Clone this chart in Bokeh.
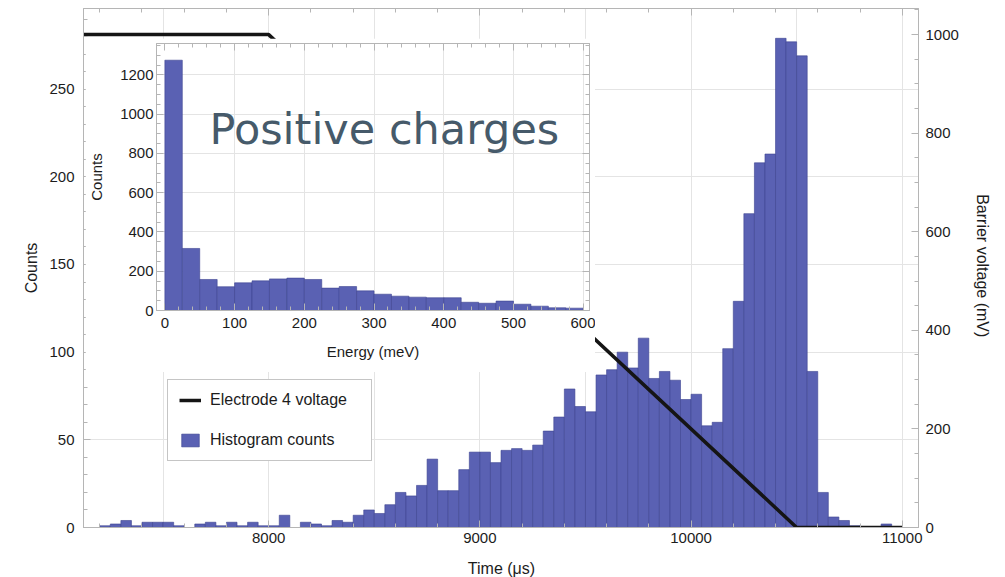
from bokeh.plotting import figure
from bokeh.layouts import column, row
from bokeh.models import (Range1d, LinearAxis, FixedTicker, Legend, LegendItem,
                          GridBox, Label, Spacer)
from bokeh.embed import file_html
from bokeh.resources import INLINE

# ---- time histogram (50 us bins, left edges) ----
TIME_BIN = 50
time_left = list(range(7200, 10950, TIME_BIN))
time_counts = [
    1, 2, 4, 1, 3, 3, 3, 1, 0, 2,          # 7200 - 7650
    3, 1, 3, 1, 3, 1, 1, 7, 0, 3,          # 7700 - 8150
    2, 1, 4, 3, 7, 10, 8, 13, 20, 18,      # 8200 - 8650
    24, 39, 21, 21, 33, 43, 43, 37, 44, 45,  # 8700 - 9150
    44, 47, 55, 63, 79, 69, 66, 87, 90, 100,  # 9200 - 9650
    91, 108, 85, 89, 84, 73, 76, 58, 60, 102,  # 9700 - 10150
    129, 179, 208, 213, 279, 277, 269, 89, 20, 6,  # 10200 - 10650
    4, 1, 0, 0, 2,                          # 10700 - 10900
]

# ---- electrode 4 barrier voltage ramp ----
volt_time = [7080, 8000, 10500, 11000]
volt_mv = [1000, 1000, 0, 0]

# ---- energy histogram (25 meV bins, left edges) ----
ENERGY_BIN = 25
energy_left = list(range(0, 600, ENERGY_BIN))
energy_counts = [1275, 316, 158, 121, 141, 151, 161, 165, 158, 114, 122, 100,
                 83, 73, 68, 65, 65, 42, 37, 48, 32, 22, 14, 12]

# ---- tick positions ----
count_ticks = [0, 50, 100, 150, 200, 250]
volt_ticks = [0, 200, 400, 600, 800, 1000]
time_ticks = [8000, 9000, 10000, 11000]
energy_ticks = [0, 100, 200, 300, 400, 500, 600]
inset_count_ticks = [0, 200, 400, 600, 800, 1000, 1200]

BAR_FILL = "#5a61b3"
BAR_LINE = "#3d4391"
FRAME = "#b5b5b5"
GRID = "#e4e4e4"
FONT = "Liberation Sans"
TXT = "#1c1c1c"


def style_axis(ax, size="15px", label_size="16px"):
    ax.axis_line_color = FRAME
    ax.major_tick_line_color = FRAME
    ax.minor_tick_line_color = FRAME
    ax.major_tick_in = 7
    ax.major_tick_out = 0
    ax.minor_tick_in = 4
    ax.minor_tick_out = 0
    ax.major_label_text_font = FONT
    ax.major_label_text_font_size = size
    ax.major_label_text_color = TXT
    ax.axis_label_text_font = FONT
    ax.axis_label_text_font_size = label_size
    ax.axis_label_text_font_style = "normal"
    ax.axis_label_text_color = TXT


def blank_axis(ticker):
    ax = LinearAxis(ticker=ticker)
    style_axis(ax)
    ax.major_label_overrides = {t: "" for t in ticker.ticks}
    ax.major_label_text_font_size = "1px"
    ax.major_label_standoff = 0
    return ax


# ================= main plot =================
p = figure(width=1005, height=577, x_range=Range1d(7123, 11077), y_range=Range1d(0, 296),
           output_backend="svg", toolbar_location=None,
           min_border_left=83, min_border_right=87, min_border_top=8, min_border_bottom=50,
           y_axis_label="Counts")
p.extra_y_ranges = {"volt": Range1d(0, 1053)}
p.outline_line_color = FRAME
p.background_fill_color = "white"
p.border_fill_color = "white"

p.xaxis.ticker = FixedTicker(ticks=time_ticks, minor_ticks=list(range(7200, 11001, 200)))
p.yaxis.ticker = FixedTicker(ticks=count_ticks, minor_ticks=list(range(0, 296, 10)))
style_axis(p.xaxis[0])
style_axis(p.yaxis[0])
p.xaxis.major_label_standoff = 5
p.yaxis.major_label_standoff = 9
p.yaxis.axis_label_standoff = 6

p.xgrid.ticker = FixedTicker(ticks=list(range(7500, 11001, 500)))
p.ygrid.ticker = FixedTicker(ticks=count_ticks[1:])
p.xgrid.grid_line_color = GRID
p.ygrid.grid_line_color = GRID

vax = LinearAxis(y_range_name="volt", axis_label="Barrier voltage  (mV)",
                 ticker=FixedTicker(ticks=volt_ticks, minor_ticks=list(range(0, 1051, 50))))
style_axis(vax)
vax.major_label_standoff = 7
vax.axis_label_standoff = 12
p.add_layout(vax, "right")

p.add_layout(blank_axis(FixedTicker(ticks=time_ticks,
                                    minor_ticks=list(range(7200, 11001, 200)))), "above")

bars = p.quad(left=time_left, right=[t + TIME_BIN for t in time_left],
              bottom=0, top=time_counts,
              fill_color=BAR_FILL, line_color=BAR_LINE, line_width=0.6)
volt = p.line(volt_time, volt_mv, y_range_name="volt", line_color="#151515", line_width=3.5)

legend = Legend(items=[LegendItem(label="Electrode 4 voltage", renderers=[volt]),
                       LegendItem(label="Histogram counts", renderers=[bars])],
                location=(84, 66), orientation="vertical")
legend.label_text_font = FONT
legend.label_text_font_size = "16px"
legend.label_text_color = TXT
legend.border_line_color = "#8c8c8c"
legend.border_line_width = 1
legend.background_fill_alpha = 1
legend.padding = 11
legend.spacing = 22
legend.glyph_width = 22
legend.glyph_height = 16
legend.label_height = 18
legend.label_width = 150
legend.label_standoff = 9
legend.margin = 0
p.add_layout(legend)

# x-axis title in a small transparent strip under the tick labels
xtitle = figure(width=140, height=19, x_range=Range1d(0, 1), y_range=Range1d(0, 1),
                output_backend="svg", toolbar_location=None, min_border=0)
xtitle.axis.visible = False
xtitle.grid.visible = False
xtitle.outline_line_color = None
xtitle.background_fill_alpha = 0
xtitle.border_fill_alpha = 0
xtitle.add_layout(Label(x=0.5, y=0.5, text="Time (\u03bcs)", text_font=FONT,
                        text_font_size="16px", text_color=TXT,
                        text_align="center", text_baseline="middle"))

# ================= inset: energy spectrum =================
inset = figure(width=510, height=334, x_range=Range1d(-12, 609), y_range=Range1d(0, 1360),
               output_backend="svg", toolbar_location=None,
               min_border_left=71, min_border_right=6, min_border_top=5, min_border_bottom=62,
               x_axis_label="Energy (meV)", y_axis_label="Counts")
inset.outline_line_color = FRAME
inset.background_fill_color = "white"
inset.border_fill_color = "white"
inset.xaxis.ticker = FixedTicker(ticks=energy_ticks, minor_ticks=list(range(0, 601, 20)))
inset.yaxis.ticker = FixedTicker(ticks=inset_count_ticks, minor_ticks=list(range(0, 1351, 50)))
style_axis(inset.xaxis[0], label_size="15px")
style_axis(inset.yaxis[0], label_size="15px")
inset.xaxis.major_label_standoff = 7
inset.xaxis.axis_label_standoff = 12
inset.yaxis.major_label_standoff = 3
inset.yaxis.axis_label_standoff = 12
inset.xgrid.ticker = FixedTicker(ticks=energy_ticks[1:])
inset.ygrid.ticker = FixedTicker(ticks=inset_count_ticks[1:])
inset.xgrid.grid_line_color = GRID
inset.ygrid.grid_line_color = GRID
inset.add_layout(blank_axis(FixedTicker(ticks=energy_ticks, minor_ticks=list(range(0, 601, 20)))), "above")
inset.add_layout(blank_axis(FixedTicker(ticks=inset_count_ticks, minor_ticks=list(range(0, 1351, 50)))), "right")

inset.quad(left=energy_left, right=[e + ENERGY_BIN for e in energy_left],
           bottom=0, top=energy_counts,
           fill_color=BAR_FILL, line_color=BAR_LINE, line_width=0.6)

title = Label(x=64, y=925, text="Positive charges", text_font="DejaVu Sans",
              text_font_size="43px", text_color="#465a6a", text_baseline="alphabetic")
inset.add_layout(title)

# overlays: inset over the upper-left of the main plot, axis title at the bottom
inset_box = column(Spacer(width=10, height=38),
                   row(Spacer(width=85, height=10), inset))
xtitle_box = column(Spacer(width=10, height=558),
                    row(Spacer(width=431, height=10), xtitle))

layout = GridBox(children=[(p, 0, 0), (inset_box, 0, 0), (xtitle_box, 0, 0)])

open("out.html", "w").write(file_html(layout, INLINE))
